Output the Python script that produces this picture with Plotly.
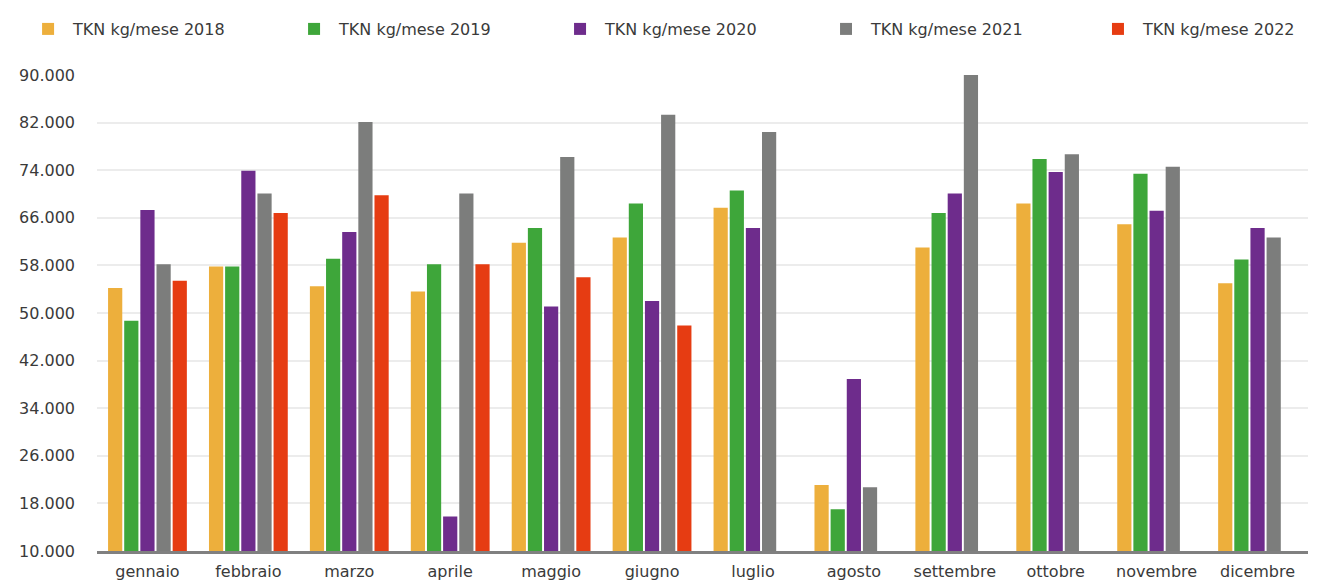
import plotly.graph_objects as go

months = ["gennaio", "febbraio", "marzo", "aprile", "maggio", "giugno",
          "luglio", "agosto", "settembre", "ottobre", "novembre", "dicembre"]

tkn_2018 = [54200, 57800, 54500, 53600, 61800, 62700, 67700, 21100, 61000, 68400, 64900, 55000]
tkn_2019 = [48700, 57800, 59100, 58200, 64300, 68400, 70600, 17000, 66800, 75900, 73400, 59000]
tkn_2020 = [67300, 73900, 63600, 15800, 51100, 52000, 64300, 38900, 70100, 73700, 67200, 64300]
tkn_2021 = [58200, 70100, 82100, 70100, 76200, 83300, 80400, 20700, 90000, 76700, 74600, 62700]
tkn_2022 = [55400, 66800, 69800, 58200, 56000, 47900, None, None, None, None, None, None]

series = [
    ("TKN kg/mese 2018", tkn_2018, "#EDAF3C"),
    ("TKN kg/mese 2019", tkn_2019, "#3EA63A"),
    ("TKN kg/mese 2020", tkn_2020, "#6E2C8C"),
    ("TKN kg/mese 2021", tkn_2021, "#7C7D7C"),
    ("TKN kg/mese 2022", tkn_2022, "#E63C12"),
]
legend_x = [0.0114, 0.2126, 0.4138, 0.6150, 0.8207]

tick_vals = [10000, 18000, 26000, 34000, 42000, 50000, 58000, 66000, 74000, 82000, 90000]

font_family = "DejaVu Sans, Liberation Sans, Arial, sans-serif"

fig = go.Figure()
legends = {}
for i, (name, vals, color) in enumerate(series):
    lid = "legend" if i == 0 else f"legend{i + 1}"
    fig.add_trace(go.Bar(x=months, y=vals, name=name, legend=lid, showlegend=True,
                         marker=dict(color=color, line=dict(width=0))))
    legends[lid] = dict(orientation="h", xref="container", x=legend_x[i], xanchor="left",
                        yref="container", y=0.9639, yanchor="middle", visible=True,
                        font=dict(size=16), itemwidth=40, bgcolor="rgba(0,0,0,0)")

fig.update_layout(
    width=1322, height=582,
    showlegend=True,
    margin=dict(l=89, r=22, t=67, b=39),
    paper_bgcolor="white", plot_bgcolor="white",
    barmode="group", bargap=0.2, bargroupgap=0.12,
    separators=",.",
    font=dict(family=font_family, size=16, color="#3a3a3a"),
    xaxis=dict(showline=True, linecolor="#808080", linewidth=3, ticks="",
               showgrid=False, tickfont=dict(size=16), automargin=False,
               ticklabelstandoff=4),
    yaxis=dict(range=[10000, 90000], tickvals=tick_vals, tickformat=",.0f",
               showgrid=True, gridcolor="#ececec", gridwidth=1.5, zeroline=False,
               showline=False, ticklabelstandoff=21, tickfont=dict(size=16),
               automargin=False),
    **legends,
)

fig.write_html("out.html")
